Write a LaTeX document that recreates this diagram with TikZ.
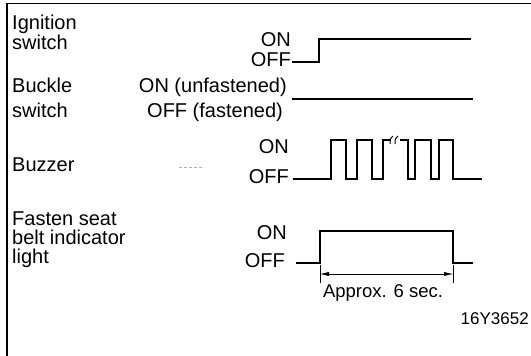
\documentclass[tikz,border=0pt]{standalone}
\usepackage{fontspec}
\setmainfont{Liberation Sans}
\usetikzlibrary{arrows.meta}

\begin{document}
\begin{tikzpicture}[x=1pt, y=-1pt, font=\fontsize{20}{24}\selectfont,
    wave/.style={line width=1.6pt},
    lbl/.style={anchor=base west, inner sep=0pt},
    lvl/.style={anchor=base east, inner sep=0pt}]
        \useasboundingbox (0,0) rectangle (531,356);
        % Rahmen
        \draw[line width=1.5pt] (531,3.5) -- (7,3.5) -- (7,356);
        % ignition switch
        \node[lbl] (ignA) at (12,30) {Ignition};
        \node[lbl] (ignB) at (12,49) {switch};
        \node[lvl] (ignOn) at (291,46) {ON};
        \node[lvl] (ignOff) at (291,66) {OFF};
        \draw[wave] (292,62) -| (319,39) -- (471,39);
        % buckle switch
        \node[lbl] (bucA) at (12,92) {Buckle};
        \node[lbl] (bucB) at (12,117) {switch};
        \node[lvl] (bucOn) at (287,92) {ON (unfastened)};
        \node[lvl] (bucOff) at (283,117) {OFF (fastened)};
        \draw[wave] (292,99) -- (473,99);
        % buzzer
        \node[lbl] (buz) at (12,171) {Buzzer};
        \node[lvl] (buzOn) at (289,153) {ON};
        \node[lvl] (buzOff) at (289,183) {OFF};
        \draw[black!30, dash pattern=on 3pt off 2pt] (179,167) -- (204,167);
        \draw[wave] (293,179) -- (331,179) |- (346,140) |- (357,179) |- (372,140)
          |- (383,179) |- (391,140);
        \draw[wave] (400,140) -- (408,140) |- (415,179) |- (431,140) |- (439,179)
          |- (453,140) |- (482,179);
        \draw[line width=1pt] (390,144) .. controls (390,139) .. (393,136);
        \draw[line width=1pt] (395,144) .. controls (395,139) .. (398,136);
        % indicator light
        \node[lbl] (indA) at (12,225) {Fasten seat};
        \node[lbl] (indB) at (12,244) {belt indicator};
        \node[lbl] (indC) at (12,263) {light};
        \node[lvl] (indOn) at (287,239) {ON};
        \node[lvl] (indOff) at (285,267) {OFF};
        \draw[wave] (296,263) -| (320,231) -| (453,263) -- (473,263);
        \coordinate (tL) at (320,274);
        \coordinate (tR) at (453,274);
        \draw (320,265) -- (320,283) (453,265) -- (453,283);
        \draw[{Latex[length=9pt,width=4pt]}-{Latex[length=9pt,width=4pt]}] (tL) -- (tR);
        \node[anchor=base, inner sep=0pt, font=\fontsize{18.5}{22}\selectfont] (approx) at (383,297) {Approx. 6 sec.};
        \node[anchor=base east, inner sep=0pt, font=\fontsize{17}{20}\selectfont] (code) at (529,324) {16Y3652};
      \end{tikzpicture}
\end{document}
